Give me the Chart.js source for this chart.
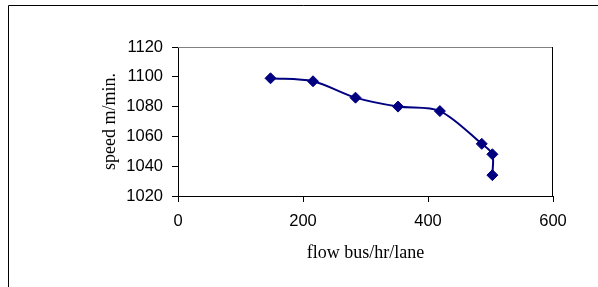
<!DOCTYPE html>
<html>
<head>
<meta charset="utf-8">
<script src="https://cdn.jsdelivr.net/npm/chart.js@4/dist/chart.umd.min.js"></script>
<style>
  html, body { margin: 0; padding: 0; background: #fff; }
  #wrap { width: 598px; height: 287px; position: relative; }
</style>
</head>
<body>
<div id="wrap"><canvas id="speedChart" width="598" height="287"></canvas></div>
<script>
// flow (bus/hr/lane) vs speed (m/min)
const flowValues = [148, 216, 284, 352, 419, 486, 503, 503];
const speedValues = [1099, 1097, 1086, 1080, 1077, 1055, 1048, 1034];
const xTicks = [0, 200, 400, 600];
const yTicks = [1020, 1040, 1060, 1080, 1100, 1120];

const points = flowValues.map((f, i) => ({ x: f, y: speedValues[i] }));

// outer frame (only top/left visible) and the plot area box
const frame = {
  id: "frame",
  beforeDraw(chart) {
    const ctx = chart.ctx;
    ctx.save();
    ctx.strokeStyle = "#000";
    ctx.lineWidth = 1;
    ctx.beginPath();
    ctx.moveTo(8.5, 287);
    ctx.lineTo(8.5, 5.5);
    ctx.lineTo(598, 5.5);
    ctx.stroke();
    ctx.restore();
  },
  beforeDatasetsDraw(chart) {
    const { ctx, chartArea: a } = chart;
    ctx.save();
    ctx.lineWidth = 1;
    ctx.strokeStyle = "#808080";
    ctx.beginPath();
    ctx.moveTo(a.left, Math.round(a.top) + 0.5);
    ctx.lineTo(a.right, Math.round(a.top) + 0.5);
    ctx.stroke();
    ctx.strokeStyle = "#000";
    ctx.beginPath();
    ctx.moveTo(Math.round(a.right) - 0.5, a.top);
    ctx.lineTo(Math.round(a.right) - 0.5, a.bottom);
    ctx.stroke();
    ctx.restore();
  },
};

new Chart(document.getElementById("speedChart"), {
  type: "scatter",
  data: {
    datasets: [
      {
        data: points,
        showLine: true,
        borderColor: "#000080",
        backgroundColor: "#000080",
        borderWidth: 2,
        tension: 0.3,
        pointStyle: "rectRot",
        pointRadius: 5.5,
        pointBorderWidth: 1,
        pointBorderColor: "#000080",
        pointBackgroundColor: "#000080",
      },
    ],
  },
  options: {
    responsive: false,
    animation: false,
    layout: { padding: { left: 99, top: 47, right: 45, bottom: 23 } },
    plugins: { legend: { display: false }, tooltip: { enabled: false } },
    scales: {
      x: {
        type: "linear",
        min: 0,
        max: 600,
        afterBuildTicks: (s) => { s.ticks = xTicks.map((v) => ({ value: v })); },
        afterFit: (s) => { s.height = 68; },
        grid: { drawOnChartArea: false, drawTicks: true, tickLength: 6, color: "#000" },
        border: { display: true, color: "#000", width: 1 },
        ticks: {
          padding: 10,
          color: "#000",
          font: { family: "Liberation Sans", size: 16.5 },
          maxRotation: 0,
          callback: (v) => String(v),
        },
        title: {
          display: true,
          text: "flow bus/hr/lane",
          color: "#000",
          padding: 0,
          font: { family: "Liberation Serif", size: 18 },
        },
      },
      y: {
        min: 1020,
        max: 1120,
        afterBuildTicks: (s) => { s.ticks = yTicks.map((v) => ({ value: v })); },
        afterFit: (s) => { s.width = 79; },
        grid: { drawOnChartArea: false, drawTicks: true, tickLength: 6, color: "#000" },
        border: { display: true, color: "#000", width: 1 },
        ticks: {
          padding: 9,
          color: "#000",
          font: { family: "Liberation Sans", size: 16.5 },
          callback: (v) => String(v),
        },
        title: {
          display: true,
          text: "speed m/min.",
          color: "#000",
          padding: 0,
          font: { family: "Liberation Serif", size: 18 },
        },
      },
    },
  },
  plugins: [frame],
});
</script>
</body>
</html>
